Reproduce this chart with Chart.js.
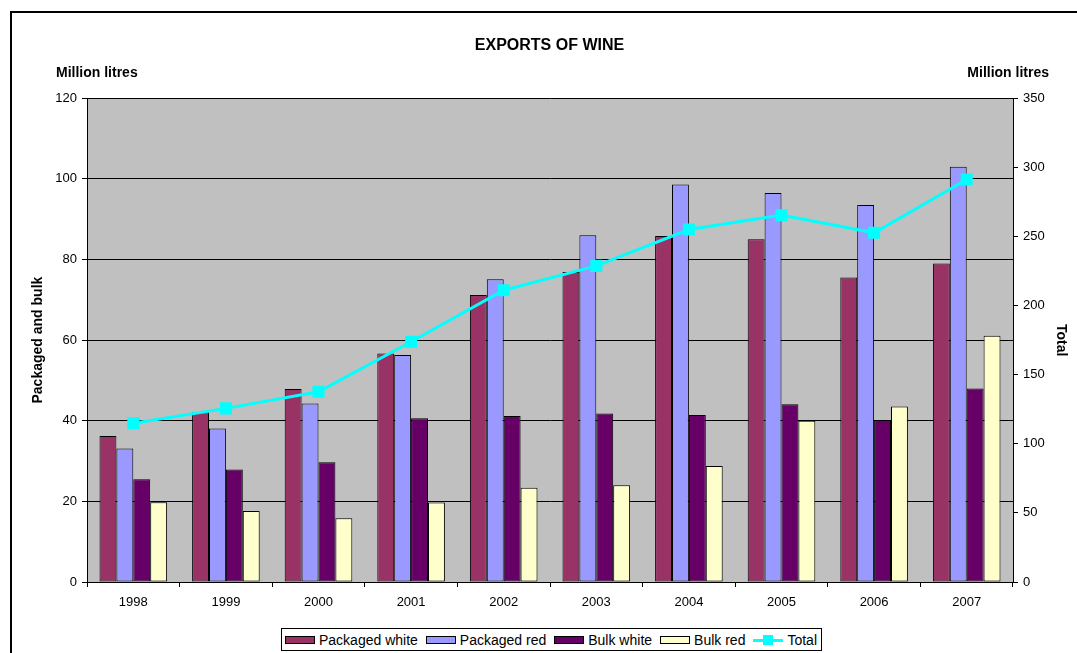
<!DOCTYPE html>
<html>
<head>
<meta charset="utf-8">
<script src="https://cdn.jsdelivr.net/npm/chart.js@4/dist/chart.umd.min.js"></script>
<style>
  body { margin: 0; background: #fff; font-family: "Liberation Sans", Arial, sans-serif; }
  #wrap { position: relative; width: 1077px; height: 653px; overflow: hidden; }
  #frame { position: absolute; left: 10px; top: 11px; width: 1200px; height: 800px;
           border-left: 2px solid #000; border-top: 2px solid #000; }
  #chart { position: absolute; left: 0; top: 0; }
  #legend { position: absolute; left: 281px; top: 628px; height: 21px; border: 1px solid #000;
            background: #fff; display: flex; align-items: center; padding: 0 4px 0 3px;
            font-size: 14px; color: #000; white-space: nowrap; }
  .item { display: flex; align-items: center; margin-right: 8px; }
  .item:last-child { margin-right: 0; }
  .swatch { width: 28px; height: 6px; border: 1px solid #000; margin-right: 4px; }
  .lineSwatch { position: relative; width: 30px; height: 10px; margin-right: 4px; }
  .lineSwatch .ln { position: absolute; left: 0; right: 0; top: 4px; height: 3px; background: #00ffff; }
  .lineSwatch .pt { position: absolute; left: 10px; top: 0; width: 10px; height: 10px; background: #00ffff; }
</style>
</head>
<body>
<div id="wrap">
  <div id="frame"></div>
  <canvas id="chart" width="1077" height="653"></canvas>
  <div id="legend"></div>
</div>
<script>
// values (million litres)
const years = ["1998", "1999", "2000", "2001", "2002", "2003", "2004", "2005", "2006", "2007"];
const packagedWhite = [36.2, 42.1, 47.9, 56.7, 71.2, 76.9, 85.8, 85.0, 75.5, 79.0];
const packagedRed   = [33.1, 38.1, 44.3, 56.3, 75.1, 86.0, 98.6, 96.5, 93.5, 103.0];
const bulkWhite     = [25.5, 27.9, 29.7, 40.6, 41.2, 41.8, 41.4, 44.1, 40.2, 48.0];
const bulkRed       = [19.8, 17.6, 15.8, 19.7, 23.4, 24.0, 28.8, 40.0, 43.5, 61.1];
const total         = [114.8, 125.6, 137.6, 173.8, 211.1, 228.7, 255.0, 265.4, 252.6, 291.2];

const barSeries = [
  { label: "Packaged white", data: packagedWhite, color: "#993366" },
  { label: "Packaged red",   data: packagedRed,   color: "#9999ff" },
  { label: "Bulk white",     data: bulkWhite,     color: "#660066" },
  { label: "Bulk red",       data: bulkRed,       color: "#ffffcc" }
];
const totalColor = "#00ffff";

const FONT = "'Liberation Sans', Arial, sans-serif";

// grey plot area, like the Excel original
const plotBackground = {
  id: "plotBackground",
  beforeDraw(chart) {
    const { ctx, chartArea: a } = chart;
    ctx.save();
    ctx.fillStyle = "#c0c0c0";
    ctx.fillRect(a.left, a.top, a.right - a.left, a.bottom - a.top);
    ctx.restore();
  }
};

// the "Million litres" unit labels above both axes
const unitLabels = {
  id: "unitLabels",
  afterDraw(chart) {
    const { ctx, chartArea: a } = chart;
    ctx.save();
    ctx.font = "bold 14px " + FONT;
    ctx.fillStyle = "#000";
    ctx.textBaseline = "middle";
    ctx.textAlign = "left";
    ctx.fillText("Million litres", a.left - 31, a.top - 25);
    ctx.textAlign = "right";
    ctx.fillText("Million litres", a.right + 36, a.top - 25);
    ctx.restore();
  }
};

const datasets = barSeries.map((s) => ({
  type: "bar",
  label: s.label,
  data: s.data,
  backgroundColor: s.color,
  borderColor: "#000",
  borderWidth: 1,
  borderSkipped: false,
  categoryPercentage: 0.73,
  barPercentage: 1.0,
  yAxisID: "y",
  order: 1
}));

datasets.push({
  type: "line",
  label: "Total",
  data: total,
  borderColor: totalColor,
  backgroundColor: totalColor,
  borderWidth: 3,
  pointStyle: "rect",
  pointRadius: 8.5,
  pointBorderWidth: 0,
  pointBackgroundColor: totalColor,
  yAxisID: "y1",
  order: 0
});

new Chart(document.getElementById("chart"), {
  data: { labels: years, datasets: datasets },
  plugins: [plotBackground, unitLabels],
  options: {
    responsive: false,
    animation: false,
    layout: { padding: { left: 22, right: 0, top: 0, bottom: 41 } },
    plugins: {
      legend: { display: false },
      tooltip: { enabled: false },
      title: {
        display: true,
        text: "EXPORTS OF WINE",
        color: "#000",
        font: { family: FONT, size: 16, weight: "bold" },
        padding: { top: 36, bottom: 43 }
      }
    },
    scales: {
      x: {
        offset: true,
        afterFit: (s) => { s.height = 30; },
        grid: { offset: true, drawOnChartArea: false, drawTicks: true, tickLength: 5, color: "#000" },
        border: { display: true, color: "#000" },
        ticks: { color: "#000", padding: 8, font: { family: FONT, size: 13 } }
      },
      y: {
        position: "left",
        min: 0,
        max: 120,
        afterFit: (s) => { s.width = 65; },
        ticks: { stepSize: 20, color: "#000", padding: 5, font: { family: FONT, size: 13 } },
        grid: { color: "#000", tickLength: 5 },
        border: { display: true, color: "#000" },
        title: {
          display: true,
          text: "Packaged and bulk",
          color: "#000",
          font: { family: FONT, size: 14, weight: "bold" },
          padding: { top: 8, bottom: 0 }
        }
      },
      y1: {
        position: "right",
        min: 0,
        max: 350,
        afterFit: (s) => { s.width = 64; },
        ticks: { stepSize: 50, color: "#000", padding: 5, font: { family: FONT, size: 13 } },
        grid: { drawOnChartArea: false, color: "#000", tickLength: 5 },
        border: { display: true, color: "#000" },
        title: {
          display: true,
          text: "Total",
          color: "#000",
          font: { family: FONT, size: 14, weight: "bold" },
          padding: { top: 8, bottom: 0 }
        }
      }
    }
  }
});

// legend built from the same series arrays
const legend = document.getElementById("legend");
barSeries.forEach((s) => {
  const item = document.createElement("div");
  item.className = "item";
  item.innerHTML = '<span class="swatch" style="background:' + s.color + '"></span>' + s.label;
  legend.appendChild(item);
});
const totalItem = document.createElement("div");
totalItem.className = "item";
totalItem.innerHTML = '<span class="lineSwatch"><span class="ln"></span><span class="pt"></span></span>Total';
legend.appendChild(totalItem);
</script>
</body>
</html>
